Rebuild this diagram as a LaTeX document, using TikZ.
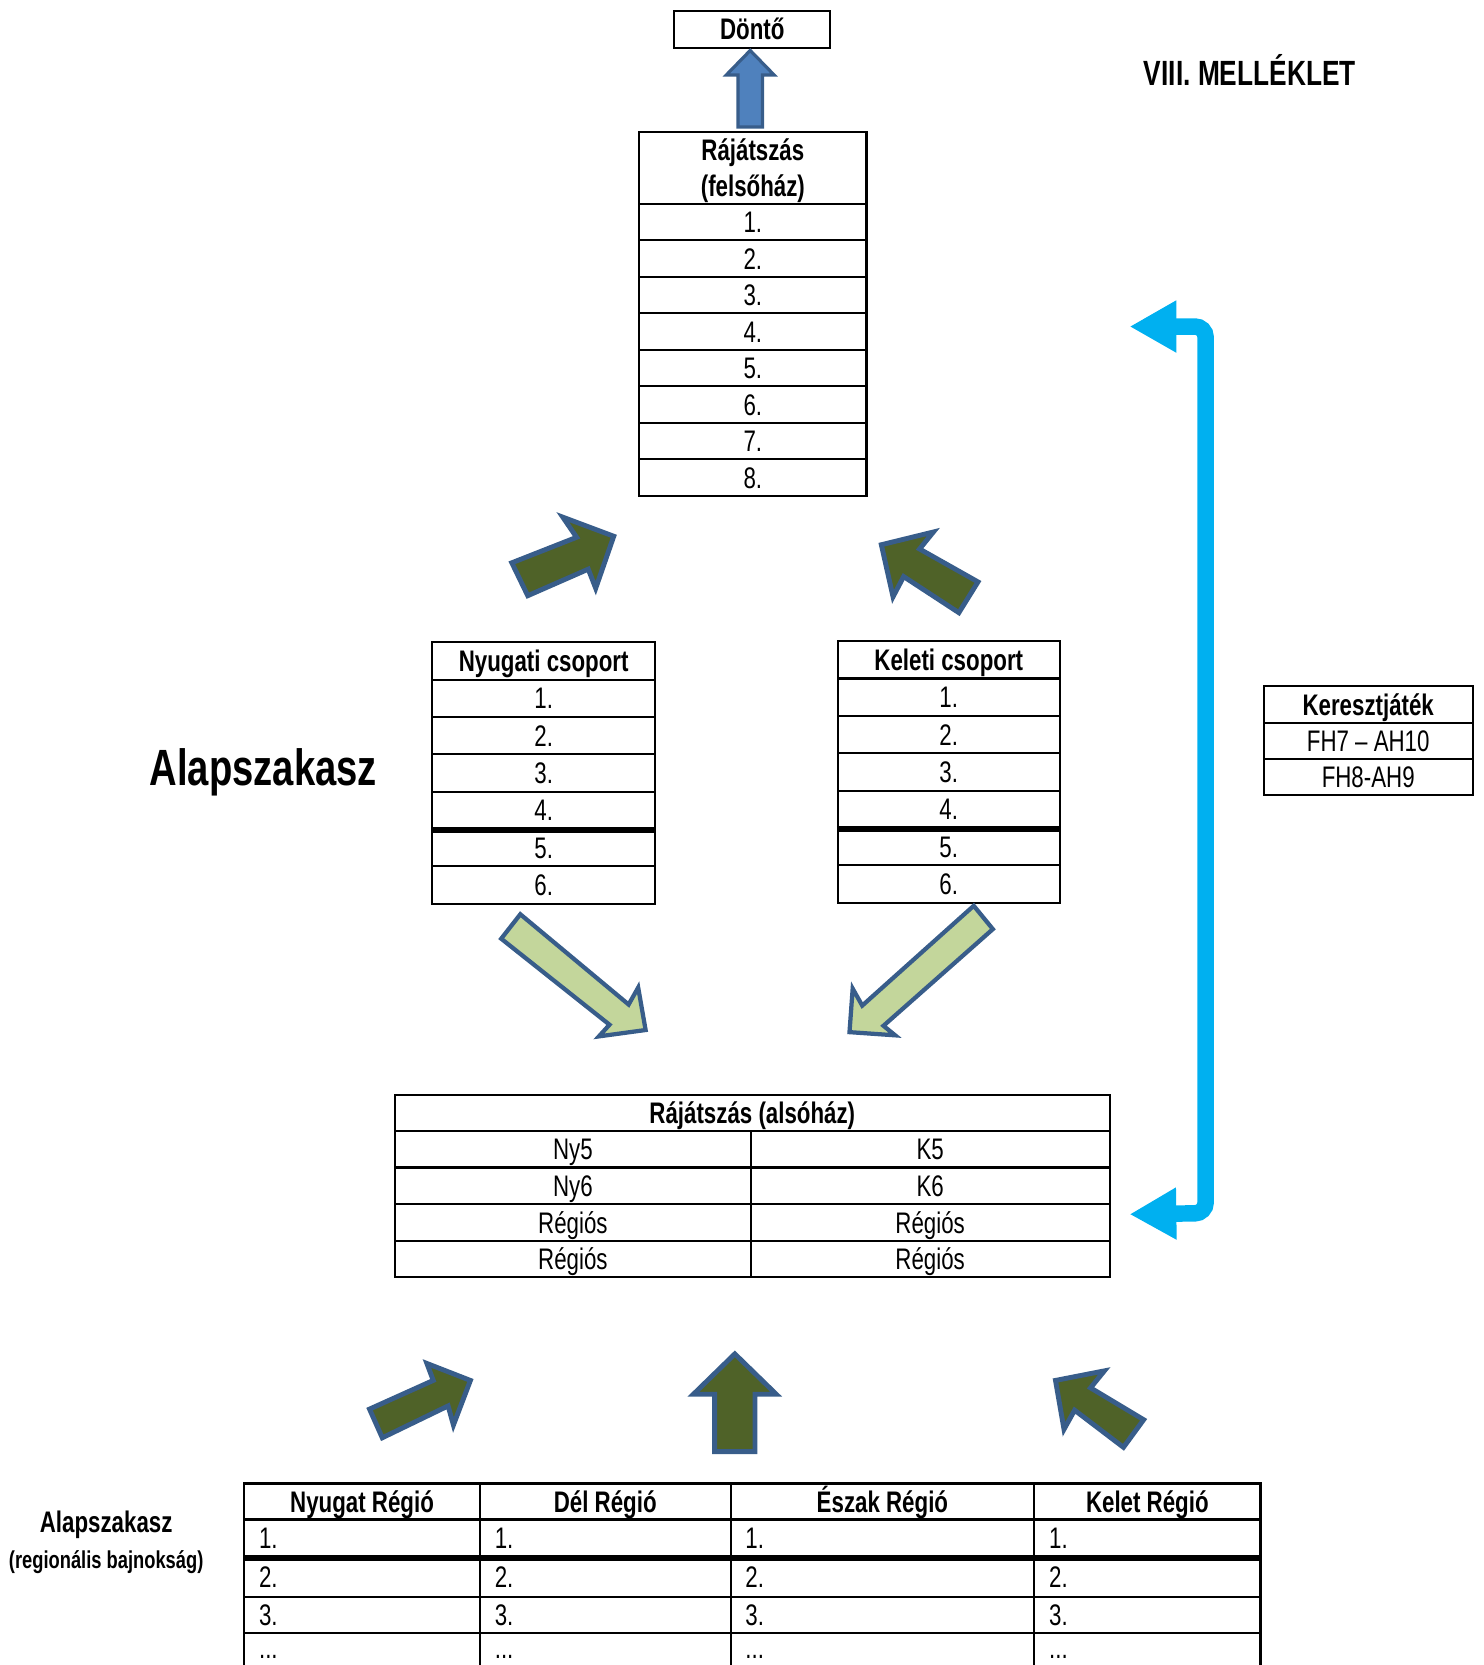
\documentclass[tikz,border=0pt]{standalone}
\usepackage{fontspec}
\setmainfont{Liberation Sans}[FakeStretch=0.75]
\usetikzlibrary{arrows.meta}
\definecolor{olivefill}{HTML}{4F6228}
\definecolor{lightfill}{HTML}{C3D69B}
\definecolor{edgeblue}{HTML}{385D8A}
\definecolor{arrowblue}{HTML}{4F81BD}
\definecolor{cyanline}{HTML}{00B0F0}
\begin{document}
\begin{tikzpicture}[x=0.5pt,y=-0.5pt,
  cell/.style={draw=black, line width=1pt, inner sep=0pt, text height=10pt, text depth=0pt,
    font=\fontsize{14pt}{16.5pt}\selectfont, align=center},
  hcell/.style={cell, font=\bfseries\fontsize{14pt}{16.5pt}\selectfont},
  lcell/.style={cell, align=left, inner xsep=7pt, text width=#1},
  thickrule/.style={line width=2.4pt},
  darkarrow/.style={fill=olivefill, draw=edgeblue, line width=2.3pt, line join=miter},
  lightarrow/.style={fill=lightfill, draw=edgeblue, line width=2pt, line join=miter},
  bluearrow/.style={fill=arrowblue, draw=edgeblue, line width=1.5pt, line join=miter},
  crossline/.style={draw=cyanline, line width=7.75pt, rounded corners=5pt,
    {Triangle[length=22pt,width=23pt]}-{Triangle[length=22pt,width=23pt]}},
  title/.style={font=\bfseries\fontsize{16.5pt}{19pt}\selectfont, inner sep=0pt}
]
\useasboundingbox (0,0) rectangle (1397,1568);
\clip (0,0) rectangle (1397,1568);

% Title
\node[title] (melleklet) at (1177,66) {VIII. MELLÉKLET};

% Donto
\node[hcell, minimum width=73.5pt, minimum height=17.5pt] (donto) at (708.5,27.5) {Döntő};
\draw[bluearrow] (695,119.6) -- (695,70.6) -- (684,70.6) -- (706.5,47.5) -- (729,70.6) -- (718,70.6) -- (718,119.6) -- cycle;

% Upper table (felsohaz)
\node[draw=black, line width=1pt, inner sep=0pt, minimum width=107pt, minimum height=34pt,
  align=center, font=\bfseries\fontsize{14pt}{16.5pt}\selectfont] (uh) at (709,158) {\rule{0pt}{13pt}Rájátszás\\(felsőház)};
\foreach \i in {1,...,8}{
  \node[cell, minimum width=107pt, minimum height=17.19pt] (u\i) at (709,{192+34.375*(\i-0.5)}) {\i.};
}

% Upper dark arrows
\draw[darkarrow] (482,530) -- (543,506) -- (530,487) -- (578,505) -- (561,554) -- (554,536) -- (497,561) -- cycle;
\draw[darkarrow] (830,513) -- (879,501) -- (866,517) -- (921,548) -- (903,577) -- (851,543) -- (841,562) -- cycle;

% Alapszakasz label
\node[font=\bfseries\fontsize{24pt}{28pt}\selectfont, inner sep=0pt] (alap) at (248,727) {Alapszakasz};

% Nyugati csoport
\node[hcell, minimum width=105pt, minimum height=17.5pt] (nyh) at (512,622.5) {Nyugati csoport};
\foreach \i in {1,...,6}{
  \node[cell, minimum width=105pt, minimum height=17.585pt] (ny\i) at (512,{640+35.17*(\i-0.5)}) {\i.};
}
\draw[thickrule] (ny4.south west) -- (ny4.south east);

% Keleti csoport
\node[hcell, minimum width=104.5pt, minimum height=17.5pt] (kh) at (893.5,621.5) {Keleti csoport};
\foreach \i in {1,...,6}{
  \node[cell, minimum width=104.5pt, minimum height=17.585pt] (k\i) at (893.5,{639+35.17*(\i-0.5)}) {\i.};
}
\draw[thickrule] (k4.south west) -- (k4.south east);

% Keresztjatek
\node[hcell, minimum width=98.5pt, minimum height=17.5pt] (kjh) at (1288.5,663.5) {Keresztjáték};
\node[cell, minimum width=98.5pt, minimum height=17pt] (kj1) at (1288.5,698) {FH7 – AH10};
\node[cell, minimum width=98.5pt, minimum height=17pt] (kj2) at (1288.5,732) {FH8-AH9};

% Light arrows
\draw[lightarrow] (490,861) -- (592,946) -- (601,930) -- (608,970) -- (564,976) -- (574,965) -- (472,884) -- cycle;
\draw[lightarrow] (917,853) -- (812,947) -- (803,931) -- (800,972) -- (843,975) -- (832,966) -- (935,875) -- cycle;

% Also haz table
\node[hcell, minimum width=336.5pt, minimum height=17pt] (ah) at (708.5,1048) {Rájátszás (alsóház)};
\foreach \i/\l/\r in {1/Ny5/K5, 2/Ny6/K6, 3/Régiós/Régiós, 4/Régiós/Régiós}{
  \node[cell, minimum width=167.5pt, minimum height=17.25pt] (al\i) at (539.5,{1065+34.5*(\i-0.5)}) {\l};
  \node[cell, minimum width=169pt, minimum height=17.25pt] (ar\i) at (876,{1065+34.5*(\i-0.5)}) {\r};
}

% Cross-play connector
\coordinate (ktop) at (1063.8,307.5);
\coordinate (kbot) at (1063.8,1143.5);
\draw[crossline] (ktop) -- (1135.4,307.5) -- (1135.4,1142.5) -- (kbot);

% Bottom dark arrows
\draw[darkarrow] (348,1327) -- (408,1300) -- (402,1284) -- (443,1300) -- (427,1342) -- (422,1324) -- (360,1354) -- cycle;
\draw[darkarrow] (673,1367) -- (673,1313) -- (653,1313) -- (692,1275) -- (731,1313) -- (711,1313) -- (711,1367) -- cycle;
\draw[darkarrow] (994,1300) -- (1040,1291) -- (1027,1307) -- (1077,1337) -- (1058,1363) -- (1012,1328) -- (1002,1346) -- cycle;

% Left labels bottom
\node[font=\bfseries\fontsize{14pt}{16pt}\selectfont, inner sep=0pt] (alap2) at (100,1436) {Alapszakasz};
\node[font=\bfseries\fontsize{11.5pt}{14pt}\selectfont, inner sep=0pt] (regbaj) at (100,1471) {(regionális bajnokság)};

% Bottom table
\foreach \n/\cx/\w/\tw/\t in {a/341/111pt/97pt/Nyugat Régió, b/570/118pt/104pt/Dél Régió, c/831/143pt/129pt/Észak Régió, d/1080.5/106.5pt/92.5pt/Kelet Régió}{
  \node[hcell, minimum width=\w, minimum height=17pt] (\n h) at (\cx,1414) {\t};
  \node[lcell=\tw, minimum width=\w, minimum height=17.5pt] (\n 1) at (\cx,1448.5) {1.};
  \node[lcell=\tw, minimum width=\w, minimum height=19pt] (\n 2) at (\cx,1485) {2.};
  \node[lcell=\tw, minimum width=\w, minimum height=17pt] (\n 3) at (\cx,1521) {3.};
  \node[lcell=\tw, minimum width=\w, minimum height=18pt] (\n 4) at (\cx,1556) {\raisebox{2pt}{...}};
}
\draw[line width=2.6pt] (a1.south west) -- (d1.south east);
\end{tikzpicture}
\end{document}
